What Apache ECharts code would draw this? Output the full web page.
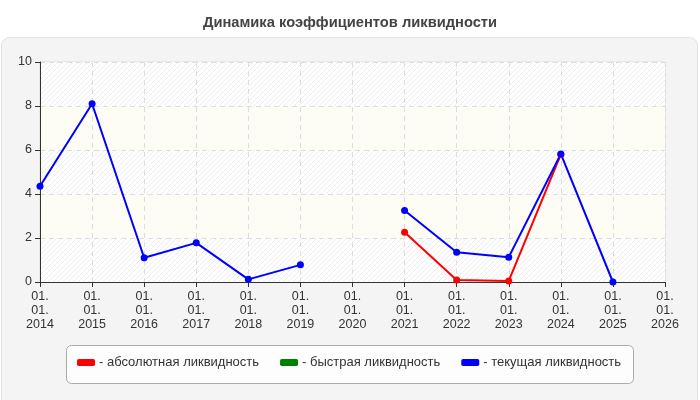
<!DOCTYPE html>
<html>
<head>
<meta charset="utf-8">
<script src="https://cdn.jsdelivr.net/npm/echarts@6/dist/echarts.min.js"></script>
<style>
  html, body { margin: 0; padding: 0; background: #fff; }
  #main { width: 700px; height: 400px; }
</style>
</head>
<body>
<div id="main"></div>
<script>
// data
const years = ['2014', '2015', '2016', '2017', '2018', '2019', '2020', '2021', '2022', '2023', '2024', '2025', '2026'];
const absoluteLiq = [null, null, null, null, null, null, null, 2.26, 0.09, 0.05, 5.8, null, null];
const quickLiq = [null, null, null, null, null, null, null, null, null, null, null, null, null];
const currentLiq = [4.35, 8.1, 1.1, 1.78, 0.12, 0.78, null, 3.25, 1.35, 1.13, 5.82, 0.0, null];
const yTicks = { min: 0, max: 10, interval: 2 };

const chart = echarts.init(document.getElementById('main'));
const FONT = 'Arial, "Liberation Sans", sans-serif';

// hatched fill for every other band of the plot
const hatch = document.createElement('canvas');
hatch.width = 5; hatch.height = 5;
const hctx = hatch.getContext('2d');
hctx.fillStyle = '#ffffff';
hctx.fillRect(0, 0, 5, 5);
hctx.strokeStyle = 'rgba(0,0,0,0.07)';
hctx.lineWidth = 1;
hctx.beginPath();
hctx.moveTo(-1, 6); hctx.lineTo(6, -1);
hctx.moveTo(-1, 1); hctx.lineTo(1, -1);
hctx.moveTo(4, 6); hctx.lineTo(6, 4);
hctx.stroke();
const hatchFill = { image: hatch, repeat: 'repeat' };

function lineSeries(name, color, data) {
    return {
        name: name,
        type: 'line',
        data: data,
        symbol: 'circle',
        symbolSize: 7,
        showSymbol: true,
        connectNulls: false,
        itemStyle: { color: color },
        lineStyle: { color: color, width: 2 },
        z: 3
    };
}

chart.setOption({
    animation: false,
    textStyle: { fontFamily: FONT },
    title: {
        text: 'Динамика коэффициентов ликвидности',
        left: 'center',
        top: 10,
        textStyle: { fontSize: 14.7, fontWeight: 'bold', color: '#444', fontFamily: FONT }
    },
    graphic: [
        {
            type: 'rect',
            shape: { x: 1.5, y: 37.5, width: 696, height: 370, r: 8 },
            style: { fill: '#f4f4f4', stroke: '#e2e2e2', lineWidth: 1 },
            z: -10
        },
        {
            type: 'rect',
            shape: { x: 66.5, y: 345.5, width: 567, height: 38, r: 5 },
            style: { fill: '#fdfdfd', stroke: '#aaaaaa', lineWidth: 1 },
            z: -9
        }
    ],
    legend: {
        left: 72,
        top: 351,
        icon: 'roundRect',
        itemWidth: 18,
        itemHeight: 7,
        itemGap: 21,
        textStyle: { fontSize: 13, color: '#333', fontFamily: FONT, padding: [0, 0, 0, -1] },
        formatter: '- {name}',
        data: ['абсолютная ликвидность', 'быстрая ликвидность', 'текущая ликвидность']
    },
    grid: {
        left: 40,
        right: 35,
        top: 62,
        bottom: 118,
        show: true,
        backgroundColor: 'transparent',
        borderColor: '#dddddd',
        borderWidth: 1
    },
    xAxis: {
        type: 'category',
        data: years,
        boundaryGap: false,
        axisLine: { lineStyle: { color: '#333', width: 1 } },
        axisTick: { show: true, length: 5, lineStyle: { color: '#333' } },
        axisLabel: {
            color: '#333',
            fontSize: 12.5,
            lineHeight: 14,
            margin: 8,
            interval: 0,
            formatter: function (v) { return '01.\n01.\n' + v; }
        },
        splitLine: { show: true, lineStyle: { color: '#dddddd', type: [5, 4] } }
    },
    yAxis: {
        type: 'value',
        min: yTicks.min,
        max: yTicks.max,
        interval: yTicks.interval,
        axisLine: { show: true, lineStyle: { color: '#333', width: 1 } },
        axisTick: { show: true, length: 5, lineStyle: { color: '#333' } },
        axisLabel: { color: '#333', fontSize: 12.5, margin: 8 },
        splitLine: { show: true, lineStyle: { color: '#dddddd', type: [5, 4] } },
        splitArea: { show: true, areaStyle: { color: [hatchFill, '#fdfdf6'] } }
    },
    series: [
        lineSeries('абсолютная ликвидность', '#ff0000', absoluteLiq),
        lineSeries('быстрая ликвидность', '#008000', quickLiq),
        lineSeries('текущая ликвидность', '#0000ff', currentLiq)
    ]
});

window.addEventListener('resize', () => chart.resize());
</script>
</body>
</html>
